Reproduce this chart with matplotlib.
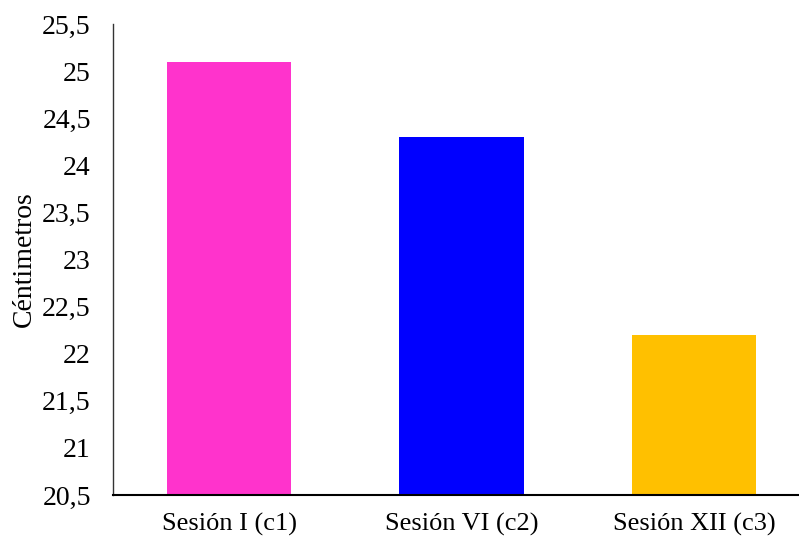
import matplotlib.pyplot as plt
from matplotlib.ticker import FuncFormatter

# Longitud media por sesión
sesiones = ['Sesión I (c1)', 'Sesión VI (c2)', 'Sesión XII (c3)']
valores = [25.1, 24.3, 22.2]
colores = ['#FF33CC', '#0000FF', '#FFC000']
y_ticks = [20.5, 21, 21.5, 22, 22.5, 23, 23.5, 24, 24.5, 25, 25.5]

plt.rcParams['font.family'] = ['Liberation Serif', 'DejaVu Serif']

fig = plt.figure(figsize=(7.99, 5.39), dpi=100)
ax = fig.add_axes([113 / 799, 1 - 495 / 539, 697 / 799, 471 / 539])

x = range(len(sesiones))
ax.bar(x, valores, width=0.535, color=colores, zorder=2)

ax.set_xlim(-0.5, 2.5)
ax.set_ylim(20.5, 25.5)
ax.set_yticks(y_ticks)
ax.yaxis.set_major_formatter(FuncFormatter(lambda v, p: f"{v:g}".replace('.', ',')))
ax.set_xticks(list(x))
ax.set_xticklabels(sesiones)

ax.tick_params(axis='y', length=0, pad=16, labelsize=20)
ax.tick_params(axis='x', length=0, pad=13, labelsize=19)

ax.set_ylabel('Céntimetros', fontsize=20)
ax.yaxis.set_label_coords(-0.109, 0.5)

for side in ['top', 'right']:
    ax.spines[side].set_visible(False)
ax.spines['left'].set_color('#333333')
ax.spines['left'].set_linewidth(1.0)
ax.spines['bottom'].set_color('black')
ax.spines['bottom'].set_linewidth(1.5)

plt.savefig('out.png', dpi=100)
